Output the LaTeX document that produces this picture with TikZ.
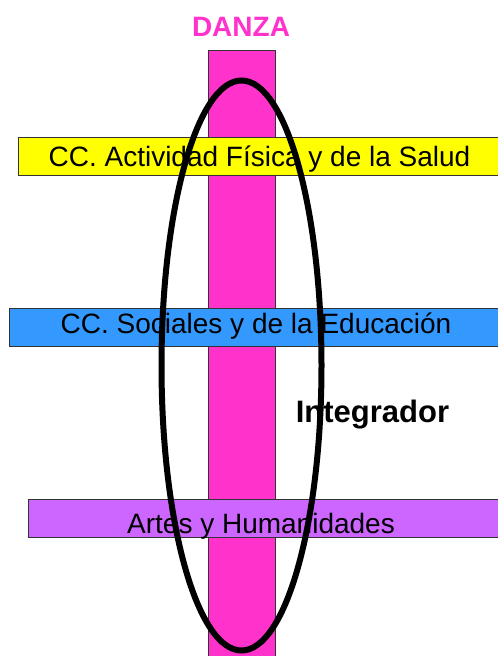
\documentclass[tikz,border=0pt]{standalone}
\usepackage{fontspec}
\setmainfont{Liberation Sans}
\usetikzlibrary{shapes.geometric}
\definecolor{danzapink}{HTML}{FF33CC}
\definecolor{baryellow}{HTML}{FFFF00}
\definecolor{barblue}{HTML}{3399FF}
\definecolor{barpurple}{HTML}{CC66FF}
\definecolor{edgegray}{HTML}{333333}
\tikzset{
  hbar/.style={draw=edgegray, line width=0.8pt, inner sep=0pt, minimum height=38pt, anchor=west},
  bartext/.style={anchor=base, inner sep=0pt, font=\fontsize{28}{30}\selectfont},
  bigbold/.style={anchor=base, inner sep=0pt, font=\fontsize{28}{30}\selectfont\bfseries},
}
\begin{document}
\begin{tikzpicture}[x=1pt,y=-1pt]
\useasboundingbox (0,0) rectangle (498,656);
% vertical pink bar
\node[draw=edgegray, line width=0.8pt, fill=danzapink, inner sep=0pt, anchor=north,
      minimum width=67pt, minimum height=612pt] (vbar) at (241.5,50) {};
\node[bigbold, text=danzapink] (danza) at (241,36) {DANZA};
% horizontal bars
\node[hbar, fill=baryellow, minimum width=479.5pt] (ybar) at (18,156) {};
\node[bartext] (ytext) at (259.5,166) {CC. Actividad Física y de la Salud};
\node[hbar, fill=barblue, minimum width=488.5pt] (bbar) at (9,327.5) {};
\node[bartext] (btext) at (256,333) {CC. Sociales y de la Educación};
\node[hbar, fill=barpurple, minimum width=469.5pt] (pbar) at (28,518.5) {};
\node[bartext] (ptext) at (261,533) {Artes y Humanidades};
% label
\node[anchor=base, inner sep=0pt, font=\fontsize{31}{33}\selectfont\bfseries] (integ) at (372.5,422.5) {Integrador};
% ellipse
\node[draw=black, line width=6pt, ellipse, inner sep=0pt,
      minimum width=160pt, minimum height=570pt] (ring) at (241.5,365.5) {};
\end{tikzpicture}
\end{document}
